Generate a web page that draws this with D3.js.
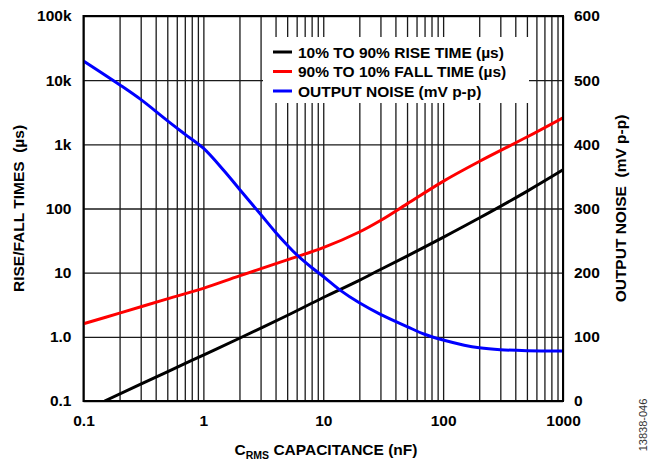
<!DOCTYPE html>
<html>
<head>
<meta charset="utf-8">
<script src="https://cdn.jsdelivr.net/npm/d3@7"></script>
<style>
  html, body { margin: 0; padding: 0; background: #fff; }
  svg { display: block; }
  text { font-family: "Liberation Sans", Arial, Helvetica, sans-serif; }
</style>
</head>
<body>
<svg id="chart" width="649" height="461"></svg>
<script>
// ---- data ----
const xTickValues = [0.1, 1, 10, 100, 1000];
const xTickLabels = ["0.1", "1", "10", "100", "1000"];
const yTickValues = [0.1, 1, 10, 100, 1000, 10000, 100000];
const yTickLabels = ["0.1", "1.0", "10", "100", "1k", "10k", "100k"];
const yRightTickValues = [0, 100, 200, 300, 400, 500, 600];

const seriesNames = ["10% TO 90% RISE TIME (µs)", "90% TO 10% FALL TIME (µs)", "OUTPUT NOISE (mV p-p)"];
const seriesColors = ["#000000", "#ff0000", "#0000ff"];

const riseCap  = [0.15, 0.5, 1, 2, 5, 10, 20, 30, 50, 100, 200, 500, 1000];
const riseTime = [0.1, 0.285, 0.52, 0.95, 2.15, 4.1, 7.6, 11.2, 18.1, 35.5, 71, 185, 400];

const fallCap  = [0.1, 0.2, 0.5, 1, 2, 5, 10, 20, 30, 50, 100, 200, 500, 1000];
const fallTime = [1.6, 2.34, 3.9, 5.7, 8.9, 15.8, 24.5, 43, 65, 118, 265, 540, 1300, 2600];

const noiseCap = [0.1, 0.2, 0.3, 0.5, 0.7, 1, 1.5, 2, 3, 4, 5, 6, 8, 10, 14, 20, 30, 50, 70, 100, 150, 200, 300, 500, 1000];
const noiseMv  = [530, 493, 470, 437, 416, 394, 358, 330, 291, 263, 243, 228, 208, 194, 172, 153, 135, 116, 104, 95, 87, 83, 80, 78.5, 78];

// ---- layout ----
const svg = d3.select("#chart");
const L = 83.5, R = 563, T = 16, B = 401;

const x = d3.scaleLog().domain([0.1, 1000]).range([L, R]);
const y = d3.scaleLog().domain([0.1, 100000]).range([B, T]);
const yR = d3.scaleLinear().domain([0, 600]).range([B, T]);

const font = "bold 15.5px 'Liberation Sans', Arial, sans-serif";

// grid
const grid = svg.append("g");
grid.append("g")
  .attr("transform", `translate(0,${B})`)
  .call(d3.axisBottom(x).tickValues(x.ticks()).tickSize(-(B - T)).tickFormat(""))
  .call(g => g.select(".domain").remove())
  .call(g => g.selectAll("line").attr("stroke", "#1a1a1a").attr("stroke-width", 1.3));
grid.append("g")
  .attr("transform", `translate(${L},0)`)
  .call(d3.axisLeft(y).tickValues(yTickValues).tickSize(-(R - L)).tickFormat(""))
  .call(g => g.select(".domain").remove())
  .call(g => g.selectAll("line").attr("stroke", "#1a1a1a").attr("stroke-width", 1.3));

// legend background box (covers grid)
svg.append("rect").attr("x", 263).attr("y", 37).attr("width", 266).attr("height", 66).attr("fill", "#fff");

// curves
svg.append("clipPath").attr("id", "clip")
  .append("rect").attr("x", L).attr("y", T).attr("width", R - L).attr("height", B - T);

const smooth = d3.curveCatmullRom.alpha(0.5);
const lineLog = d3.line().curve(smooth).x(d => x(d[0])).y(d => y(d[1]));
const lineLin = d3.line().curve(smooth).x(d => x(d[0])).y(d => yR(d[1]));

const curves = svg.append("g").attr("clip-path", "url(#clip)");
curves.append("path").datum(riseCap.map((c, i) => [c, riseTime[i]]))
  .attr("d", lineLog).attr("fill", "none").attr("stroke", seriesColors[0]).attr("stroke-width", 3);
curves.append("path").datum(fallCap.map((c, i) => [c, fallTime[i]]))
  .attr("d", lineLog).attr("fill", "none").attr("stroke", seriesColors[1]).attr("stroke-width", 3);
curves.append("path").datum(noiseCap.map((c, i) => [c, noiseMv[i]]))
  .attr("d", lineLin).attr("fill", "none").attr("stroke", seriesColors[2]).attr("stroke-width", 3);

// frame
svg.append("rect").attr("x", L).attr("y", T).attr("width", R - L).attr("height", B - T)
  .attr("fill", "none").attr("stroke", "#000").attr("stroke-width", 2);

// axes labels
svg.append("g").attr("transform", `translate(${L},0)`)
  .call(d3.axisLeft(y).tickValues(yTickValues).tickSize(0).tickPadding(12)
    .tickFormat((d, i) => yTickLabels[i]))
  .call(g => g.select(".domain").remove())
  .call(g => g.selectAll("text").style("font", font).attr("fill", "#000"));

svg.append("g").attr("transform", `translate(${R},0)`)
  .call(d3.axisRight(yR).tickValues(yRightTickValues).tickSize(0).tickPadding(11))
  .call(g => g.select(".domain").remove())
  .call(g => g.selectAll("text").style("font", font).attr("fill", "#000"));

svg.append("g").attr("transform", `translate(0,${B})`)
  .call(d3.axisBottom(x).tickValues(xTickValues).tickSize(0).tickPadding(14)
    .tickFormat((d, i) => xTickLabels[i]))
  .call(g => g.select(".domain").remove())
  .call(g => g.selectAll("text").style("font", font).attr("fill", "#000"));

// axis titles
const xt = svg.append("text").attr("x", 326).attr("y", 455).attr("text-anchor", "middle").style("font", font);
xt.append("tspan").text("C");
xt.append("tspan").attr("dy", 4).style("font-size", "10.5px").text("RMS");
xt.append("tspan").attr("dy", -4).text(" CAPACITANCE (nF)");

svg.append("text")
  .attr("transform", `translate(24,${(T + B) / 2}) rotate(-90)`)
  .attr("text-anchor", "middle").style("font", font)
  .attr("xml:space", "preserve")
  .text("RISE/FALL TIMES  (µs)");

svg.append("text")
  .attr("transform", `translate(626,${(T + B) / 2}) rotate(-90)`)
  .attr("text-anchor", "middle").style("font", font)
  .attr("xml:space", "preserve")
  .text("OUTPUT NOISE  (mV p-p)");

svg.append("text")
  .attr("transform", `translate(647,425) rotate(-90)`)
  .attr("text-anchor", "middle")
  .style("font", "11px 'Liberation Sans', Arial, sans-serif").attr("fill", "#333")
  .text("13838-046");

// legend
const leg = svg.append("g");
seriesNames.forEach((name, i) => {
  const yy = 52 + i * 19.5;
  leg.append("line").attr("x1", 273).attr("x2", 292).attr("y1", yy).attr("y2", yy)
    .attr("stroke", seriesColors[i]).attr("stroke-width", 3);
  leg.append("text").attr("x", 298).attr("y", yy + 5.5).style("font", font).text(name);
});
</script>
</body>
</html>
